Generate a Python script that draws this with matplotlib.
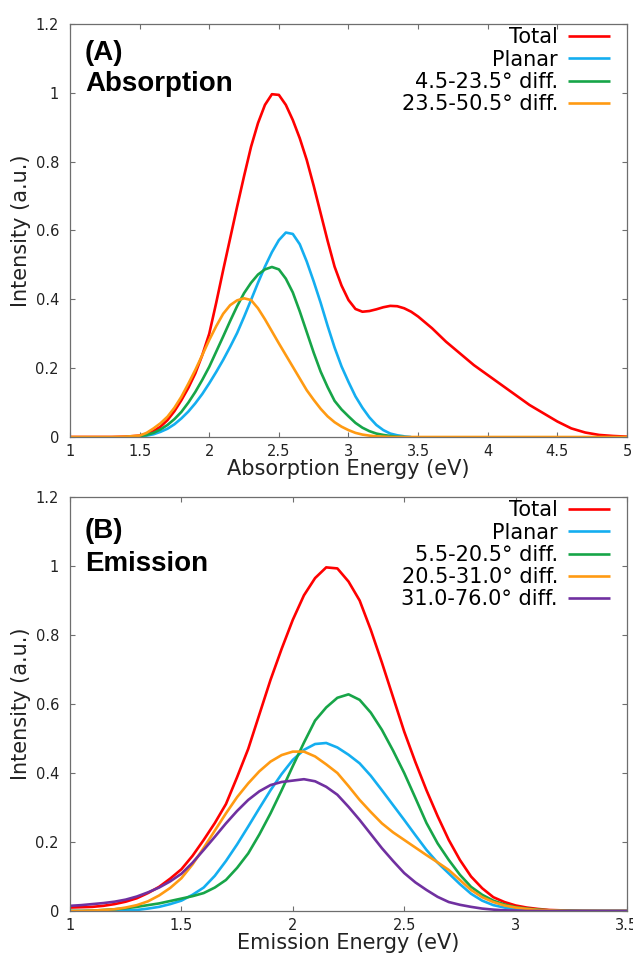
import numpy as np
import matplotlib
matplotlib.use("Agg")
import matplotlib.pyplot as plt
from matplotlib.ticker import FuncFormatter

# ---------------- data: absorption panel ----------------
abs_energy = [1.0, 1.1, 1.2, 1.3, 1.4, 1.5,
              1.55, 1.6, 1.65, 1.7, 1.75, 1.8, 1.85, 1.9, 1.95, 2.0,
              2.05, 2.1, 2.15, 2.2, 2.25, 2.3, 2.35, 2.4, 2.45, 2.5,
              2.55, 2.6, 2.65, 2.7, 2.75, 2.8, 2.85, 2.9, 2.95, 3.0,
              3.05, 3.1, 3.15, 3.2, 3.25, 3.3, 3.35, 3.4, 3.45, 3.5,
              3.6, 3.7, 3.8, 3.9, 4.0, 4.1, 4.2, 4.3, 4.4, 4.5,
              4.6, 4.7, 4.8, 4.9, 5.0]
abs_total = [0, 0, 0, 0, 0.001, 0.004,
             0.009, 0.017, 0.030, 0.049, 0.075, 0.107, 0.143, 0.185, 0.238, 0.300,
             0.390, 0.485, 0.577, 0.669, 0.758, 0.843, 0.912, 0.965, 0.996, 0.994,
             0.965, 0.921, 0.868, 0.805, 0.730, 0.650, 0.570, 0.495, 0.440, 0.398,
             0.372, 0.364, 0.366, 0.371, 0.377, 0.381, 0.380, 0.374, 0.364, 0.350,
             0.316, 0.277, 0.243, 0.209, 0.180, 0.151, 0.122, 0.093, 0.069, 0.045,
             0.025, 0.013, 0.006, 0.003, 0.001]
nan = np.nan
abs_planar = [nan, nan, nan, nan, 0.0, 0.002,
              0.004, 0.008, 0.015, 0.024, 0.037, 0.054, 0.074, 0.098, 0.125, 0.156,
              0.189, 0.224, 0.262, 0.302, 0.349, 0.398, 0.448, 0.495, 0.537, 0.572,
              0.594, 0.590, 0.560, 0.510, 0.452, 0.390, 0.323, 0.260, 0.205, 0.160,
              0.118, 0.085, 0.057, 0.035, 0.020, 0.010, 0.005, 0.002, 0.0, nan,
              nan, nan, nan, nan, nan, nan, nan, nan, nan, nan,
              nan, nan, nan, nan, nan]
abs_diff1 = [nan, nan, nan, nan, nan, 0.002,
             0.006, 0.012, 0.022, 0.035, 0.052, 0.073, 0.100, 0.131, 0.166, 0.204,
             0.248, 0.292, 0.337, 0.380, 0.418, 0.448, 0.472, 0.487, 0.494, 0.487,
             0.460, 0.420, 0.365, 0.305, 0.245, 0.190, 0.145, 0.105, 0.080, 0.060,
             0.041, 0.027, 0.017, 0.010, 0.006, 0.003, 0.001, 0.0, nan, nan,
             nan, nan, nan, nan, nan, nan, nan, nan, nan, nan,
             nan, nan, nan, nan, nan]
abs_diff2 = [0, 0, 0, 0, 0.001, 0.004,
             0.012, 0.025, 0.040, 0.059, 0.085, 0.117, 0.155, 0.195, 0.238, 0.282,
             0.322, 0.358, 0.383, 0.397, 0.403, 0.398, 0.374, 0.342, 0.307, 0.272,
             0.238, 0.204, 0.170, 0.136, 0.108, 0.082, 0.060, 0.043, 0.030, 0.020,
             0.012, 0.007, 0.004, 0.002, 0.001, 0, 0, 0, 0, 0,
             0, 0, 0, 0, 0, 0, 0, 0, 0, 0,
             0, 0, 0, 0, 0]
abs_labels = ["Total", "Planar", "4.5-23.5\u00b0 diff.", "23.5-50.5\u00b0 diff."]

# ---------------- data: emission panel ----------------
em_energy = [1.0, 1.05, 1.1, 1.15, 1.2, 1.25, 1.3, 1.35, 1.4, 1.45,
             1.5, 1.55, 1.6, 1.65, 1.7, 1.75, 1.8, 1.85, 1.9, 1.95,
             2.0, 2.05, 2.1, 2.15, 2.2, 2.25, 2.3, 2.35, 2.4, 2.45,
             2.5, 2.55, 2.6, 2.65, 2.7, 2.75, 2.8, 2.85, 2.9, 2.95,
             3.0, 3.05, 3.1, 3.15, 3.2, 3.25, 3.3, 3.4, 3.5]
em_total = [0.010, 0.011, 0.012, 0.015, 0.020, 0.027, 0.037, 0.052, 0.070, 0.094,
            0.121, 0.160, 0.206, 0.255, 0.310, 0.388, 0.470, 0.570, 0.670, 0.760,
            0.844, 0.915, 0.965, 0.996, 0.993, 0.955, 0.900, 0.815, 0.720, 0.620,
            0.520, 0.432, 0.350, 0.275, 0.206, 0.148, 0.100, 0.066, 0.040, 0.026,
            0.016, 0.010, 0.006, 0.003, 0.002, 0.001, 0.0005, 0, 0]
em_planar = [0, 0, 0, 0, 0.001, 0.002, 0.003, 0.007, 0.012, 0.020,
             0.030, 0.047, 0.068, 0.102, 0.145, 0.193, 0.245, 0.298, 0.350, 0.397,
             0.438, 0.467, 0.484, 0.487, 0.474, 0.453, 0.428, 0.392, 0.350, 0.307,
             0.264, 0.220, 0.177, 0.140, 0.109, 0.078, 0.050, 0.030, 0.017, 0.010,
             0.005, 0.003, 0.001, 0, 0, 0, 0, 0, 0]
em_diff1 = [0, 0, 0.001, 0.003, 0.005, 0.008, 0.012, 0.017, 0.022, 0.029,
            0.036, 0.043, 0.052, 0.068, 0.090, 0.125, 0.167, 0.222, 0.283, 0.350,
            0.420, 0.488, 0.552, 0.590, 0.618, 0.628, 0.612, 0.575, 0.525, 0.465,
            0.400, 0.328, 0.255, 0.196, 0.148, 0.105, 0.070, 0.047, 0.030, 0.019,
            0.011, 0.007, 0.004, 0.002, 0.001, 0.0005, 0, 0, 0]
em_diff2 = [0, 0, 0.001, 0.003, 0.005, 0.010, 0.017, 0.028, 0.045, 0.067,
            0.095, 0.135, 0.183, 0.233, 0.283, 0.330, 0.370, 0.405, 0.433, 0.452,
            0.462, 0.462, 0.448, 0.425, 0.400, 0.362, 0.322, 0.287, 0.254, 0.228,
            0.206, 0.184, 0.162, 0.141, 0.119, 0.090, 0.061, 0.040, 0.026, 0.016,
            0.010, 0.006, 0.003, 0.002, 0.001, 0, 0, 0, 0]
em_diff3 = [0.015, 0.017, 0.020, 0.023, 0.027, 0.033, 0.042, 0.054, 0.068, 0.086,
            0.108, 0.140, 0.177, 0.215, 0.254, 0.290, 0.322, 0.347, 0.365, 0.374,
            0.378, 0.382, 0.376, 0.360, 0.337, 0.302, 0.264, 0.223, 0.182, 0.145,
            0.110, 0.083, 0.061, 0.041, 0.026, 0.018, 0.012, 0.007, 0.004, 0.002,
            0.001, 0, 0, 0, 0, 0, 0, 0, 0]
em_labels = ["Total", "Planar", "5.5-20.5\u00b0 diff.", "20.5-31.0\u00b0 diff.",
             "31.0-76.0\u00b0 diff."]

abs_xticks = [1, 1.5, 2, 2.5, 3, 3.5, 4, 4.5, 5]
em_xticks = [1, 1.5, 2, 2.5, 3, 3.5]
y_ticks = [0, 0.2, 0.4, 0.6, 0.8, 1.0, 1.2]

# ---------------- style ----------------
RED = "#ff0000"
BLUE = "#14aef0"
GREEN = "#17a548"
ORANGE = "#ff9a12"
PURPLE = "#7030a0"
FRAME = "#6e6e6e"
LW = 1.9

plt.rcParams["font.family"] = ["DejaVu Sans"]

fig = plt.figure(figsize=(6.33, 9.57), dpi=100)
axA = fig.add_axes([70 / 633, (957 - 437) / 957, 557 / 633, 413 / 957])
axB = fig.add_axes([70 / 633, (957 - 911) / 957, 557 / 633, 414 / 957])

fmt = FuncFormatter(lambda v, p: "%g" % round(v, 3))


def style(ax, xlim, xticks, xlabel):
    ax.set_xlim(*xlim)
    ax.set_ylim(0, 1.2)
    ax.set_xticks(xticks)
    ax.set_yticks(y_ticks)
    ax.xaxis.set_major_formatter(fmt)
    ax.yaxis.set_major_formatter(fmt)
    for s in ax.spines.values():
        s.set_color(FRAME)
        s.set_linewidth(0.9)
    ax.tick_params(direction="in", top=True, right=True, length=3.8, width=0.8,
                   color=FRAME, labelsize=10.5, labelcolor="#222222")
    ax.tick_params(axis="y", pad=8)
    ax.tick_params(axis="x", pad=5)
    ax.set_xlabel(xlabel, fontsize=15, labelpad=0, color="#222222")
    ax.set_ylabel("Intensity (a.u.)", fontsize=15, labelpad=3, color="#222222")


def legend(ax):
    ax.legend(loc="upper right", bbox_to_anchor=(0.9695, 0.992), frameon=False,
              markerfirst=False, handlelength=2.0, handletextpad=0.5,
              labelspacing=0.11, fontsize=15, borderpad=0, borderaxespad=0)


# Panel A
for y, c, lab in zip([abs_total, abs_planar, abs_diff1, abs_diff2],
                     [RED, BLUE, GREEN, ORANGE], abs_labels):
    axA.plot(abs_energy, y, color=c, lw=LW, label=lab, solid_capstyle="butt")
style(axA, (1, 5), abs_xticks, "Absorption Energy (eV)")
legend(axA)
axA.text(0.027, 0.913, "(A)", transform=axA.transAxes, fontsize=20,
         fontweight="bold", family="Liberation Sans", va="baseline", ha="left")
axA.text(0.027, 0.838, "Absorption", transform=axA.transAxes, fontsize=20,
         fontweight="bold", family="Liberation Sans", va="baseline", ha="left")

# Panel B
for y, c, lab in zip([em_total, em_planar, em_diff1, em_diff2, em_diff3],
                     [RED, BLUE, GREEN, ORANGE, PURPLE], em_labels):
    axB.plot(em_energy, y, color=c, lw=LW, label=lab, solid_capstyle="butt")
style(axB, (1, 3.5), em_xticks, "Emission Energy (eV)")
legend(axB)
axB.text(0.027, 0.900, "(B)", transform=axB.transAxes, fontsize=20,
         fontweight="bold", family="Liberation Sans", va="baseline", ha="left")
axB.text(0.027, 0.822, "Emission", transform=axB.transAxes, fontsize=20,
         fontweight="bold", family="Liberation Sans", va="baseline", ha="left")

fig.savefig("out.png", dpi=100)
